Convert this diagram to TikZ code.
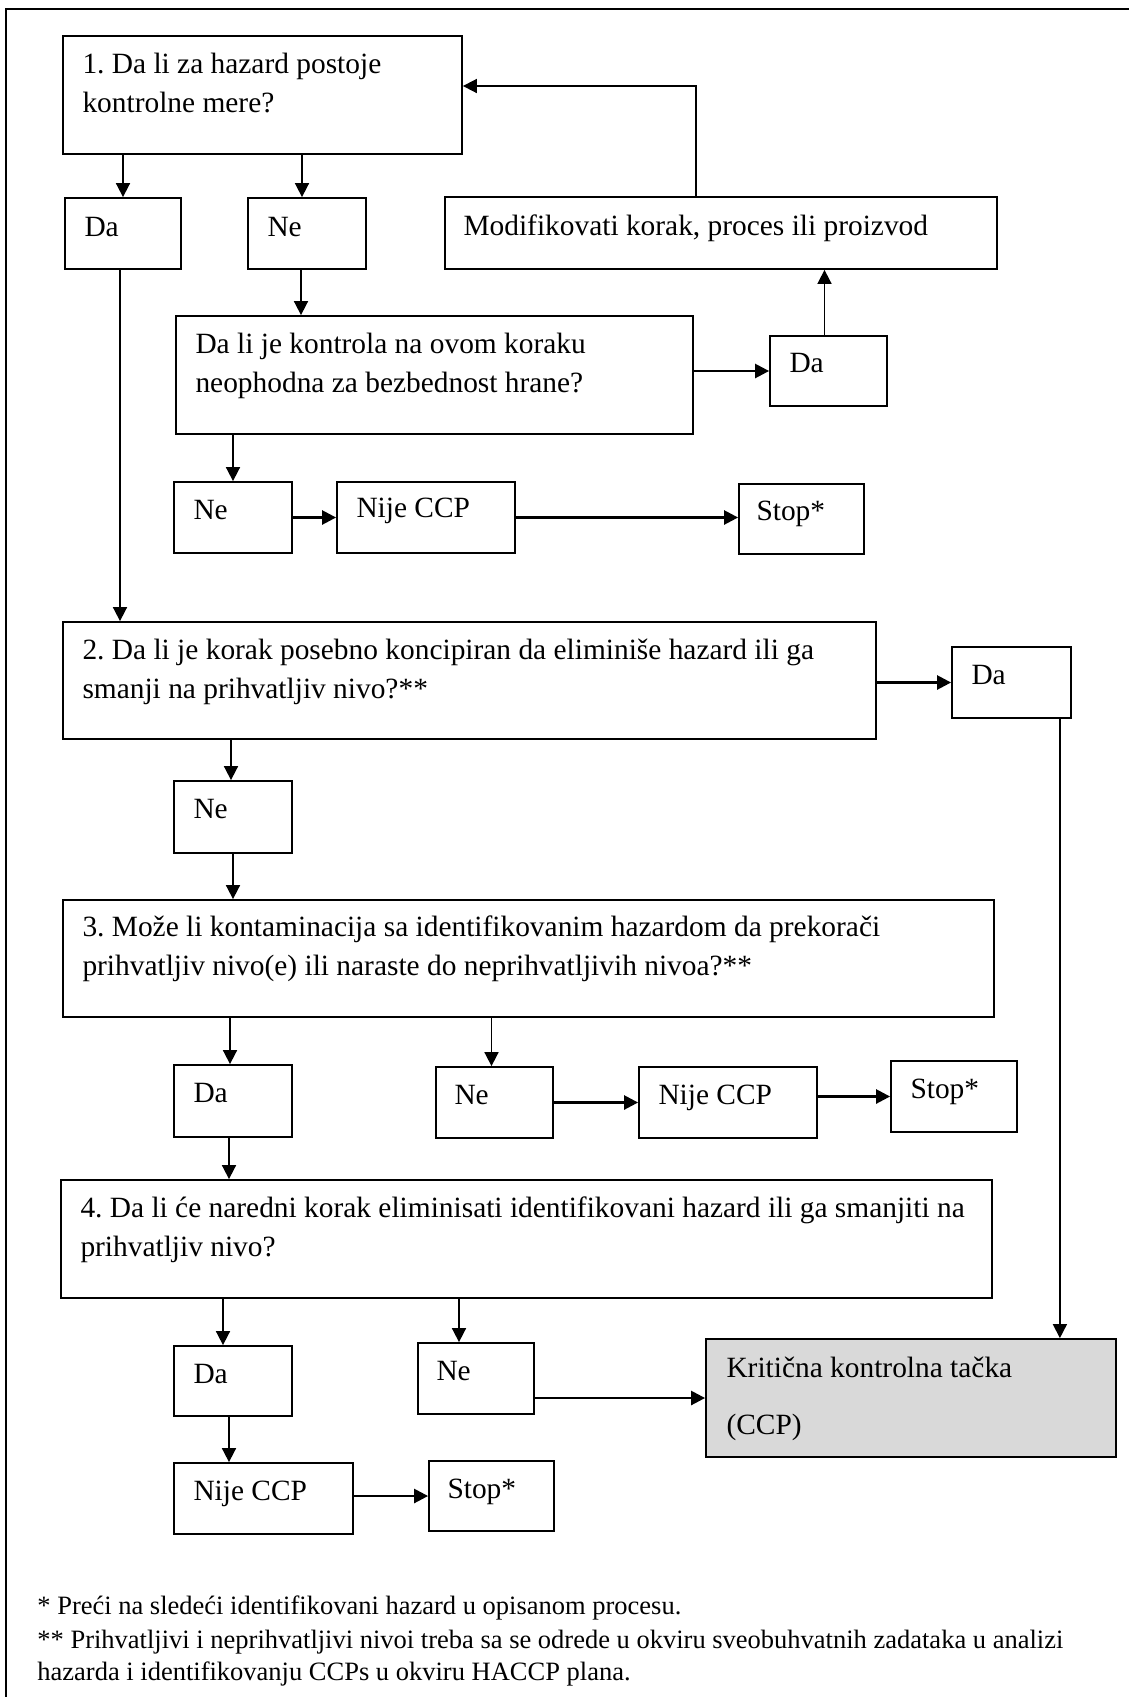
\documentclass[tikz,border=0pt]{standalone}
\usepackage{fontspec}
\setmainfont{Liberation Serif}
\usetikzlibrary{arrows.meta,fit}
\definecolor{ccpgrey}{RGB}{217,217,217}
\frenchspacing
\newcommand{\bodyfont}{\fontsize{14.7}{19.5}\selectfont}
\newcommand{\notefont}{\fontsize{13.25}{16}\selectfont}
\tikzset{
  box/.style={draw,line width=0.9pt,inner sep=0pt},
  txt/.style={anchor=north west,align=left,inner sep=0pt,font=\bodyfont},
  note/.style={align=left,inner sep=0pt,font=\notefont},
  varr/.style={-{Triangle[length=7pt,width=7pt]},line width=0.85pt},
  harr/.style={-{Triangle[length=7pt,width=7pt]},line width=1.25pt}
}

\begin{document}
\begin{tikzpicture}[x=0.5pt,y=-0.5pt]
\useasboundingbox (0,0) rectangle (1129,1697);
\draw[line width=1.1pt] (6,1697) -- (6,9) -- (1129,9);

% boxes
\node[box,fit={(63,36)(462,154)}] (q1) {};
\node[box,fit={(65,198)(181,269)}] (da1) {};
\node[box,fit={(248,198)(366,269)}] (ne1) {};
\node[box,fit={(445,197)(997,269)}] (mod) {};
\node[box,fit={(176,316)(693,434)}] (q2) {};
\node[box,fit={(770,336)(887,406)}] (da2) {};
\node[box,fit={(174,482)(292,553)}] (ne2) {};
\node[box,fit={(337,482)(515,553)}] (nije1) {};
\node[box,fit={(739,484)(864,554)}] (stop1) {};
\node[box,fit={(63,622)(876,739)}] (q3) {};
\node[box,fit={(952,647)(1071,718)}] (da3) {};
\node[box,fit={(174,781)(292,853)}] (ne3) {};
\node[box,fit={(63,900)(994,1017)}] (q4) {};
\node[box,fit={(174,1065)(292,1137)}] (da4) {};
\node[box,fit={(436,1067)(553,1138)}] (ne4) {};
\node[box,fit={(639,1067)(817,1138)}] (nije2) {};
\node[box,fit={(891,1061)(1017,1132)}] (stop2) {};
\node[box,fit={(61,1180)(992,1298)}] (q5) {};
\node[box,fit={(174,1346)(292,1416)}] (da5) {};
\node[box,fit={(418,1343)(534,1414)}] (ne5) {};
\node[box,fill=ccpgrey,fit={(706,1339)(1116,1457)}] (ccp) {};
\node[box,fit={(174,1463)(353,1534)}] (nije3) {};
\node[box,fit={(429,1461)(554,1531)}] (stop3) {};

% texts
\node[txt] (t-q1) at ([shift={(20,11)}]q1.north west) {\strut 1. Da li za hazard postoje\\kontrolne mere?};
\node[txt] (t-da1) at ([shift={(20,12)}]da1.north west) {\strut Da};
\node[txt] (t-ne1) at ([shift={(20,12)}]ne1.north west) {\strut Ne};
\node[txt] (t-mod) at ([shift={(19,12)}]mod.north west) {\strut Modifikovati korak, proces ili proizvod};
\node[txt] (t-q2) at ([shift={(20,11)}]q2.north west) {\strut Da li je kontrola na ovom koraku\\neophodna za bezbednost hrane?};
\node[txt] (t-da2) at ([shift={(20,10)}]da2.north west) {\strut Da};
\node[txt] (t-ne2) at ([shift={(20,11)}]ne2.north west) {\strut Ne};
\node[txt] (t-nije1) at ([shift={(20,9)}]nije1.north west) {\strut Nije CCP};
\node[txt] (t-stop1) at ([shift={(18,10)}]stop1.north west) {\strut Stop*};
\node[txt] (t-q3) at ([shift={(20,11)}]q3.north west) {\strut 2. Da li je korak posebno koncipiran da eliminiše hazard ili ga\\smanji na prihvatljiv nivo?**};
\node[txt] (t-da3) at ([shift={(20,11)}]da3.north west) {\strut Da};
\node[txt] (t-ne3) at ([shift={(20,11)}]ne3.north west) {\strut Ne};
\node[txt] (t-q4) at ([shift={(20,10)}]q4.north west) {\strut 3. Može li kontaminacija sa identifikovanim hazardom da prekorači\\prihvatljiv nivo(e) ili naraste do neprihvatljivih nivoa?**};
\node[txt] (t-da4) at ([shift={(20,11)}]da4.north west) {\strut Da};
\node[txt] (t-ne4) at ([shift={(19,11)}]ne4.north west) {\strut Ne};
\node[txt] (t-nije2) at ([shift={(20,11)}]nije2.north west) {\strut Nije CCP};
\node[txt] (t-stop2) at ([shift={(20,11)}]stop2.north west) {\strut Stop*};
\node[txt] (t-q5) at ([shift={(20,11)}]q5.north west) {\strut 4. Da li će naredni korak eliminisati identifikovani hazard ili ga smanjiti na\\prihvatljiv nivo?};
\node[txt] (t-da5) at ([shift={(20,11)}]da5.north west) {\strut Da};
\node[txt] (t-ne5) at ([shift={(19,11)}]ne5.north west) {\strut Ne};
\node[txt] (t-ccp) at ([shift={(21,12)}]ccp.north west) {\strut Kritična kontrolna tačka\\[9pt](CCP)};
\node[txt] (t-nije3) at ([shift={(20,11)}]nije3.north west) {\strut Nije CCP};
\node[txt] (t-stop3) at ([shift={(19,11)}]stop3.north west) {\strut Stop*};

% connectors
\draw[varr] (q1.south -| da1.north) -- (da1.north);
\draw[varr] ([xshift=-2.5pt]ne1.north |- q1.south) -- ([xshift=-2.5pt]ne1.north);
\draw[varr] ([xshift=-3pt]ne1.south) -- ([xshift=-3pt]ne1.south |- q2.north);
\draw[harr] (q2.east |- da2.west) -- (da2.west);
\draw[varr] ([xshift=-2pt]da2.north) -- ([xshift=-2pt]da2.north |- mod.south);
\draw[varr] ([xshift=-12.5pt]mod.north) |- ([yshift=4.5pt]q1.east);
\draw[varr] (ne2.north |- q2.south) -- (ne2.north);
\draw[harr] (ne2.east) -- (nije1.west);
\draw[harr] (nije1.east) -- (nije1.east -| stop1.west);
\draw[varr] ([xshift=-1.5pt]da1.south) -- ([xshift=-1.5pt]da1.south |- q3.north);
\draw[harr] (q3.east |- da3.west) -- (da3.west);
\draw[varr] ([xshift=-6pt]da3.south east) -- ([xshift=-6pt]da3.south east |- ccp.north);
\draw[varr] ([xshift=-1pt]ne3.north |- q3.south) -- ([xshift=-1pt]ne3.north);
\draw[varr] (ne3.south) -- (ne3.south |- q4.north);
\draw[varr] ([xshift=-1.5pt]da4.north |- q4.south) -- ([xshift=-1.5pt]da4.north);
\draw[varr] ([xshift=-1.5pt]ne4.north |- q4.south) -- ([xshift=-1.5pt]ne4.north);
\draw[harr] (ne4.east) -- (ne4.east -| nije2.west);
\draw[harr] (nije2.east |- stop2.west) -- (stop2.west);
\draw[varr] ([xshift=-2pt]da4.south) -- ([xshift=-2pt]da4.south |- q5.north);
\draw[varr] ([xshift=-5pt]da5.north |- q5.south) -- ([xshift=-5pt]da5.north);
\draw[varr] ([xshift=-8.5pt]ne5.north |- q5.south) -- ([xshift=-8.5pt]ne5.north);
\draw[harr] (ne5.east |- ccp.west) -- (ccp.west);
\draw[varr] ([xshift=-2pt]da5.south) -- ([xshift=-2pt]da5.south |- nije3.north);
\draw[harr] (nije3.east |- stop3.west) -- (stop3.west);

% footnotes
\node[note,anchor=base west] (fn1) at (37,1614) {* Preći na sledeći identifikovani hazard u opisanom procesu.};
\node[note,anchor=north west] (fn2) at (37,1626) {\strut ** Prihvatljivi i neprihvatljivi nivoi treba sa se odrede u okviru sveobuhvatnih zadataka u analizi\\hazarda i identifikovanju CCPs u okviru HACCP plana.};
\end{tikzpicture}
\end{document}
